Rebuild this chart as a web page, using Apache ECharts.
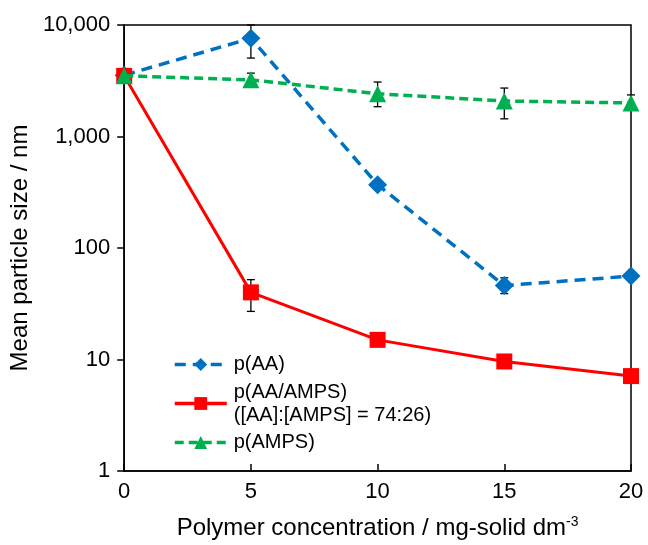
<!DOCTYPE html>
<html>
<head>
<meta charset="utf-8">
<script src="https://cdn.jsdelivr.net/npm/echarts@6/dist/echarts.min.js"></script>
<style>
  html, body { margin: 0; padding: 0; background: #fff; }
  #chart { width: 648px; height: 545px; }
</style>
</head>
<body>
<div id="chart"></div>
<script>
// data
const concentrations = [0, 5, 10, 15, 20]
const sizeAA = [3550, 7600, 370, 46, 56]
const sizeAAAMPS = [3500, 40, 15, 9.6, 7.1]
const sizeAMPS = [3500, 3220, 2420, 2080, 2000]
// error bars: [x, low, high]
const errAA = [[5, 5050, 10000], [15, 39, 54]]
const errAAAMPS = [[5, 27, 52]]
const errAMPS = [[5, 2900, 3700], [10, 1850, 3080], [15, 1440, 2720], [20, 1750, 2360]]
const yTicks = [1, 10, 100, 1000, 10000]
const names = ['p(AA)', 'p(AA/AMPS)\n([AA]:[AMPS] = 74:26)', 'p(AMPS)']

const font = 'Liberation Sans, Arial, sans-serif'

const toPairs = (ys) => concentrations.map((x, i) => [x, ys[i]])

// 误差棒
const errorSeries = (data) => ({
  type: 'custom',
  z: 1,
  silent: true,
  clip: false,
  data: data,
  renderItem: (params, api) => {
    const top = api.coord([api.value(0), api.value(2)])
    const bot = api.coord([api.value(0), api.value(1)])
    const half = 4
    const style = { stroke: '#000', lineWidth: 1.3 }
    return {
      type: 'group',
      children: [
        { type: 'line', shape: { x1: top[0], y1: top[1], x2: bot[0], y2: bot[1] }, style },
        { type: 'line', shape: { x1: top[0] - half, y1: top[1], x2: top[0] + half, y2: top[1] }, style },
        { type: 'line', shape: { x1: bot[0] - half, y1: bot[1], x2: bot[0] + half, y2: bot[1] }, style }
      ]
    }
  }
})

const chart = echarts.init(document.getElementById('chart'))
const option = {
  animation: false,
  textStyle: { fontFamily: font },
  grid: {
    left: 122, right: 17, top: 25, bottom: 73,
    show: true, borderColor: '#000', borderWidth: 1.5
  },
  legend: {
    orient: 'vertical',
    left: 168,
    top: 348,
    itemWidth: 52,
    itemHeight: 16,
    itemGap: 4.5,
    textStyle: { fontFamily: font, fontSize: 20, color: '#000', lineHeight: 23, padding: [0, 0, 0, 2] },
    data: [
      { name: names[0], lineStyle: { width: 3.5 } },
      { name: names[1], lineStyle: { width: 3.5 } },
      { name: names[2], lineStyle: { width: 3.5 } }
    ]
  },
  xAxis: {
    type: 'value',
    min: 0, max: 20, interval: 5,
    name: 'Polymer concentration / mg-solid dm{sup|-3}',
    nameLocation: 'middle',
    nameGap: 44,
    nameTextStyle: {
      fontFamily: font, fontSize: 24, color: '#000',
      rich: { sup: { fontSize: 14, verticalAlign: 'top', padding: [0, 0, 12, 0], color: '#000', fontFamily: font } }
    },
    axisLine: { lineStyle: { color: '#000', width: 1.5 } },
    axisTick: { inside: true, length: 7, lineStyle: { color: '#000', width: 1.5 } },
    axisLabel: { fontSize: 22, color: '#000', margin: 10, fontFamily: font },
    splitLine: { show: false }
  },
  yAxis: {
    type: 'log',
    logBase: 10,
    min: 1, max: 10000,
    name: 'Mean particle size / nm',
    nameLocation: 'middle',
    nameGap: 89,
    nameTextStyle: { fontFamily: font, fontSize: 24, color: '#000' },
    axisLine: { lineStyle: { color: '#000', width: 1.5 } },
    axisTick: { inside: false, length: 7, lineStyle: { color: '#000', width: 1.5 } },
    axisLabel: {
      fontSize: 22, color: '#000', margin: 14, fontFamily: font,
      formatter: (v) => yTicks.includes(Math.round(v)) ? Math.round(v).toLocaleString('en-US') : ''
    },
    splitLine: { show: false }
  },
  series: [
    errorSeries(errAA),
    errorSeries(errAAAMPS),
    errorSeries(errAMPS),
    {
      name: names[0],
      type: 'line',
      z: 2,
      clip: false,
      data: toPairs(sizeAA),
      symbol: 'diamond',
      symbolSize: 19,
      lineStyle: { color: '#0070C0', width: 3.5, type: [11, 7] },
      itemStyle: { color: '#0070C0' }
    },
    {
      name: names[1],
      type: 'line',
      z: 3,
      clip: false,
      data: toPairs(sizeAAAMPS),
      symbol: 'rect',
      symbolSize: 16,
      lineStyle: { color: '#FF0000', width: 3 },
      itemStyle: { color: '#FF0000' }
    },
    {
      name: names[2],
      type: 'line',
      z: 4,
      clip: false,
      data: toPairs(sizeAMPS),
      symbol: 'triangle',
      symbolSize: 17,
      lineStyle: { color: '#00B050', width: 3.5, type: [9, 5] },
      itemStyle: { color: '#00B050' }
    }
  ]
}
chart.setOption(option)
</script>
</body>
</html>
